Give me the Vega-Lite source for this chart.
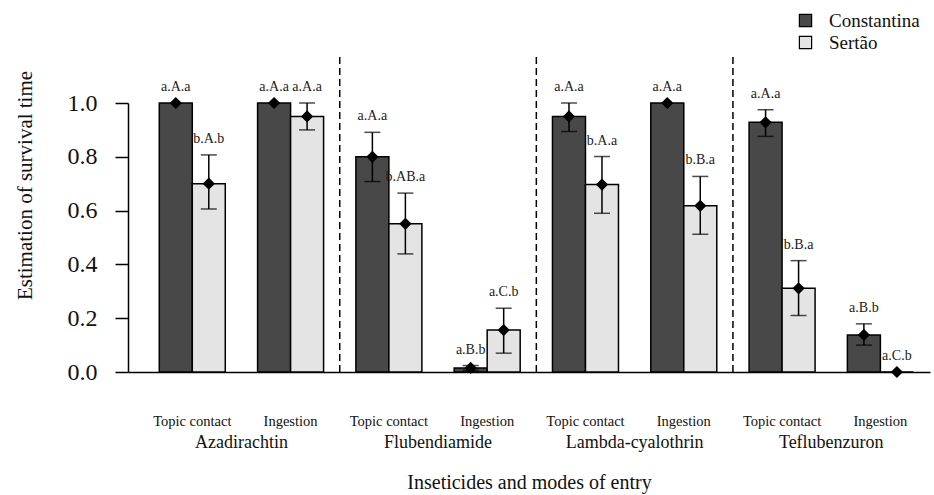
{
  "$schema": "https://vega.github.io/schema/vega-lite/v6.json",
  "autosize": {"type": "none"},
  "padding": {"left": 128, "top": 103, "right": 4, "bottom": 123},
  "width": 802,
  "height": 269,
  "background": "white",
  "config": {
    "view": {"stroke": null},
    "font": "Liberation Serif",
    "text": {"font": "Liberation Serif"},
    "axis": {"grid": false, "labelFont": "Liberation Serif", "titleFont": "Liberation Serif", "labelColor": "#111", "titleColor": "#111", "titleFontWeight": "normal"},
    "legend": {"labelFont": "Liberation Serif"}
  },
  "data": {
    "values": [
      {"insecticide": "Azadirachtin", "mode": "Topic contact", "group": "Azadirachtin|Topic contact", "pop": "Constantina", "value": 1.0, "lower": 1.0, "upper": 1.0, "label": "a.A.a"},
      {"insecticide": "Azadirachtin", "mode": "Topic contact", "group": "Azadirachtin|Topic contact", "pop": "Sertão", "value": 0.70, "lower": 0.606, "upper": 0.807, "label": "b.A.b"},
      {"insecticide": "Azadirachtin", "mode": "Ingestion", "group": "Azadirachtin|Ingestion", "pop": "Constantina", "value": 1.0, "lower": 1.0, "upper": 1.0, "label": "a.A.a"},
      {"insecticide": "Azadirachtin", "mode": "Ingestion", "group": "Azadirachtin|Ingestion", "pop": "Sertão", "value": 0.95, "lower": 0.90, "upper": 1.0, "label": "a.A.a"},
      {"insecticide": "Flubendiamide", "mode": "Topic contact", "group": "Flubendiamide|Topic contact", "pop": "Constantina", "value": 0.80, "lower": 0.708, "upper": 0.891, "label": "a.A.a"},
      {"insecticide": "Flubendiamide", "mode": "Topic contact", "group": "Flubendiamide|Topic contact", "pop": "Sertão", "value": 0.551, "lower": 0.439, "upper": 0.665, "label": "b.AB.a"},
      {"insecticide": "Flubendiamide", "mode": "Ingestion", "group": "Flubendiamide|Ingestion", "pop": "Constantina", "value": 0.015, "lower": 0.006, "upper": 0.024, "label": "a.B.b"},
      {"insecticide": "Flubendiamide", "mode": "Ingestion", "group": "Flubendiamide|Ingestion", "pop": "Sertão", "value": 0.156, "lower": 0.07, "upper": 0.237, "label": "a.C.b"},
      {"insecticide": "Lambda-cyalothrin", "mode": "Topic contact", "group": "Lambda-cyalothrin|Topic contact", "pop": "Constantina", "value": 0.95, "lower": 0.894, "upper": 1.0, "label": "a.A.a"},
      {"insecticide": "Lambda-cyalothrin", "mode": "Topic contact", "group": "Lambda-cyalothrin|Topic contact", "pop": "Sertão", "value": 0.697, "lower": 0.59, "upper": 0.801, "label": "b.A.a"},
      {"insecticide": "Lambda-cyalothrin", "mode": "Ingestion", "group": "Lambda-cyalothrin|Ingestion", "pop": "Constantina", "value": 1.0, "lower": 1.0, "upper": 1.0, "label": "a.A.a"},
      {"insecticide": "Lambda-cyalothrin", "mode": "Ingestion", "group": "Lambda-cyalothrin|Ingestion", "pop": "Sertão", "value": 0.618, "lower": 0.512, "upper": 0.727, "label": "b.B.a"},
      {"insecticide": "Teflubenzuron", "mode": "Topic contact", "group": "Teflubenzuron|Topic contact", "pop": "Constantina", "value": 0.928, "lower": 0.876, "upper": 0.975, "label": "a.A.a"},
      {"insecticide": "Teflubenzuron", "mode": "Topic contact", "group": "Teflubenzuron|Topic contact", "pop": "Sertão", "value": 0.311, "lower": 0.21, "upper": 0.414, "label": "b.B.a"},
      {"insecticide": "Teflubenzuron", "mode": "Ingestion", "group": "Teflubenzuron|Ingestion", "pop": "Constantina", "value": 0.138, "lower": 0.10, "upper": 0.179, "label": "a.B.b"},
      {"insecticide": "Teflubenzuron", "mode": "Ingestion", "group": "Teflubenzuron|Ingestion", "pop": "Sertão", "value": 0.0, "lower": 0.0, "upper": 0.0, "label": "a.C.b"}
    ]
  },
  "layer": [
    {
      "encoding": {
        "x": {
          "field": "group", "type": "nominal",
          "sort": ["Azadirachtin|Topic contact", "Azadirachtin|Ingestion", "Flubendiamide|Topic contact", "Flubendiamide|Ingestion", "Lambda-cyalothrin|Topic contact", "Lambda-cyalothrin|Ingestion", "Teflubenzuron|Topic contact", "Teflubenzuron|Ingestion"],
          "scale": {"paddingInner": 0.3286, "paddingOuter": 0.2437, "align": 0.653, "round": false},
          "axis": {
            "orient": "bottom", "title": null, "labelAngle": 0, "ticks": false, "tickSize": 0,
            "labelExpr": "split(datum.label, '|')[1]",
            "labelFont": "Liberation Serif", "labelFontSize": 14.5, "labelPadding": 42,
            "domain": true, "domainColor": "#000", "domainWidth": 1.5
          }
        },
        "xOffset": {"field": "pop", "type": "nominal", "sort": ["Constantina", "Sertão"], "scale": {"paddingInner": 0, "paddingOuter": 0}}
      },
      "layer": [
        {
          "mark": {"type": "bar", "stroke": "#000", "strokeWidth": 1.5},
          "encoding": {
            "y": {
              "field": "value", "type": "quantitative",
              "scale": {"domain": [0, 1], "nice": false, "zero": true},
              "axis": {
                "title": "Estimation of survival time", "titleFont": "Liberation Serif", "titleFontSize": 21, "titlePadding": 32, "titleY": 82,
                "values": [0, 0.2, 0.4, 0.6, 0.8, 1.0], "format": ".1f",
                "labelFont": "Liberation Serif", "labelFontSize": 24, "labelPadding": 18, "tickSize": 13, "tickColor": "#000", "tickWidth": 1.5,
                "domainColor": "#000", "domainWidth": 1.5
              }
            },
            "color": {
              "field": "pop", "type": "nominal",
              "scale": {"domain": ["Constantina", "Sertão"], "range": ["#484848", "#e4e4e4"]},
              "legend": {
                "title": null, "orient": "none", "legendX": 668, "legendY": -92,
                "symbolType": "square", "symbolSize": 150, "symbolStrokeColor": "#000", "symbolStrokeWidth": 1.2,
                "labelFont": "Liberation Serif", "labelFontSize": 19, "labelOffset": 14, "rowPadding": 2, "labelColor": "#111"
              }
            }
          }
        },
        {
          "transform": [{"filter": "datum.upper > datum.lower"}],
          "mark": {"type": "rule", "color": "#000", "strokeWidth": 1.5},
          "encoding": {
            "y": {"field": "lower", "type": "quantitative"},
            "y2": {"field": "upper"}
          }
        },
        {
          "transform": [{"filter": "datum.upper > datum.lower"}],
          "mark": {"type": "tick", "orient": "horizontal", "color": "#000", "size": 16, "thickness": 1.5},
          "encoding": {"y": {"field": "lower", "type": "quantitative"}}
        },
        {
          "transform": [{"filter": "datum.upper > datum.lower"}],
          "mark": {"type": "tick", "orient": "horizontal", "color": "#000", "size": 16, "thickness": 1.5},
          "encoding": {"y": {"field": "upper", "type": "quantitative"}}
        },
        {
          "mark": {"type": "point", "shape": "diamond", "filled": true, "color": "#000", "opacity": 1, "size": 150},
          "encoding": {"y": {"field": "value", "type": "quantitative"}}
        },
        {
          "mark": {"type": "text", "font": "Liberation Serif", "fontSize": 14, "color": "#222", "baseline": "middle", "dy": -16},
          "encoding": {
            "y": {"field": "upper", "type": "quantitative"},
            "text": {"field": "label"}
          }
        }
      ]
    },
    {
      "transform": [
        {"aggregate": [{"op": "count", "as": "n"}], "groupby": ["insecticide"]},
        {"filter": "datum.insecticide != 'Teflubenzuron'"}
      ],
      "mark": {"type": "rule", "color": "#000", "strokeWidth": 1.5, "strokeDash": [7, 4]},
      "encoding": {
        "x": {
          "field": "insecticide", "type": "nominal", "bandPosition": 1,
          "scale": {"domain": ["Azadirachtin", "Flubendiamide", "Lambda-cyalothrin", "Teflubenzuron"], "paddingInner": 0, "paddingOuter": 0.0397, "align": 0.97, "round": false},
          "axis": {
            "orient": "bottom", "title": "Inseticides and modes of entry", "titleFont": "Liberation Serif", "titleFontSize": 20, "titlePadding": 21,
            "labelAngle": 0, "ticks": false, "tickSize": 0, "domain": false,
            "labelFont": "Liberation Serif", "labelFontSize": 18, "labelPadding": 61
          }
        },
        "y": {"datum": 0, "type": "quantitative"},
        "y2": {"datum": 1.18}
      }
    }
  ],
  "resolve": {"scale": {"x": "independent"}, "axis": {"x": "independent"}}
}
